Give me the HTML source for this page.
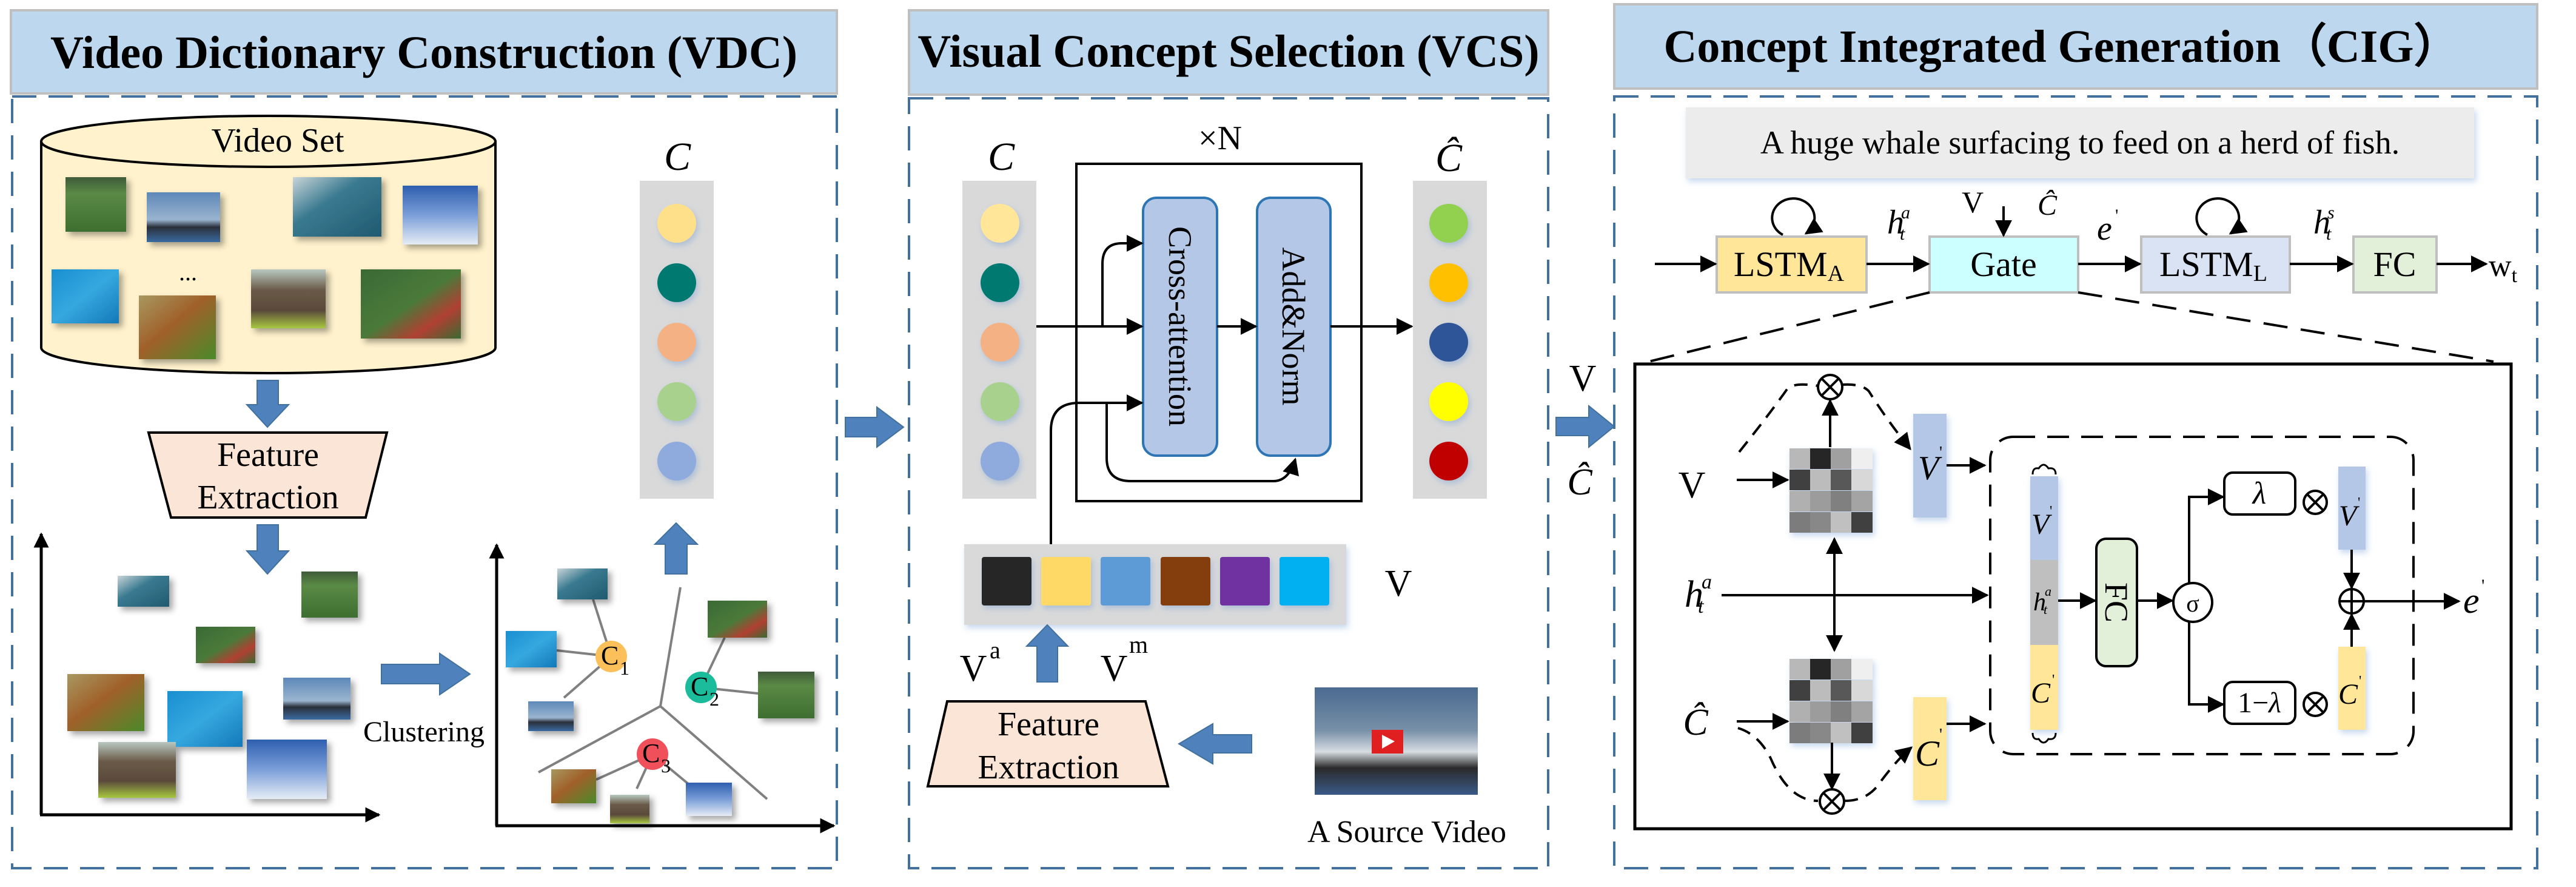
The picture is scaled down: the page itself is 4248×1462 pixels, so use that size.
<!DOCTYPE html>
<html><head><meta charset="utf-8"><style>
html,body{margin:0;padding:0;background:#fff;}
svg{display:block;font-family:"Liberation Serif","DejaVu Serif",serif;}
svg text{font-family:"Liberation Serif","DejaVu Serif",serif;fill:#000;}
.t{font-weight:bold;font-size:76px;}
.it{font-style:italic;}
</style></head><body>
<svg width="4248" height="1462" viewBox="0 0 4248 1462" xmlns="http://www.w3.org/2000/svg" font-family="Liberation Serif, DejaVu Serif, serif">
<defs>
<marker id="ah" viewBox="0 0 10 10" refX="9" refY="5" markerWidth="5" markerHeight="5" orient="auto-start-reverse" markerUnits="strokeWidth"><path d="M0,0 L10,5 L0,10 z" fill="#000"/></marker>
<marker id="ah2" viewBox="0 0 10 10" refX="9" refY="5" markerWidth="7" markerHeight="7" orient="auto-start-reverse" markerUnits="strokeWidth"><path d="M0,0 L10,5 L0,10 z" fill="#000"/></marker>
<filter id="sh" x="-20%" y="-20%" width="150%" height="150%"><feDropShadow dx="6" dy="6" stdDeviation="5" flood-color="#000" flood-opacity="0.35"/></filter>
<filter id="sh2" x="-20%" y="-20%" width="150%" height="150%"><feDropShadow dx="3" dy="5" stdDeviation="5" flood-color="#5b8fd0" flood-opacity="0.35"/></filter>
<linearGradient id="gf" x1="0" y1="0" x2="0" y2="1"><stop offset="0" stop-color="#3f5a3a"/><stop offset=".3" stop-color="#5a8a45"/><stop offset="1" stop-color="#3d6e30"/></linearGradient>
<linearGradient id="gw" x1="0" y1="0" x2="0" y2="1"><stop offset="0" stop-color="#5d88b8"/><stop offset=".55" stop-color="#9ab5d0"/><stop offset=".7" stop-color="#2a2f3a"/><stop offset="1" stop-color="#3a6aa0"/></linearGradient>
<linearGradient id="gp" x1="0" y1="0" x2="1" y2="1"><stop offset="0" stop-color="#c8d4d8"/><stop offset=".4" stop-color="#3a7a90"/><stop offset="1" stop-color="#1f5a70"/></linearGradient>
<linearGradient id="gq" x1="0" y1="0" x2="0" y2="1"><stop offset="0" stop-color="#2f5fb0"/><stop offset=".5" stop-color="#7a9ed8"/><stop offset="1" stop-color="#e6ecf5"/></linearGradient>
<linearGradient id="gb" x1="0" y1="0" x2="1" y2="1"><stop offset="0" stop-color="#1a8fd0"/><stop offset=".5" stop-color="#35a8e0"/><stop offset="1" stop-color="#1478b8"/></linearGradient>
<linearGradient id="gs" x1="0" y1="0" x2="1" y2="1"><stop offset="0" stop-color="#a89860"/><stop offset=".45" stop-color="#a0602a"/><stop offset="1" stop-color="#4a8a2a"/></linearGradient>
<linearGradient id="ge" x1="0" y1="0" x2="0" y2="1"><stop offset="0" stop-color="#b8c8c0"/><stop offset=".35" stop-color="#6a5a48"/><stop offset=".7" stop-color="#5a4a3a"/><stop offset="1" stop-color="#a8c840"/></linearGradient>
<linearGradient id="gc" x1="0" y1="0" x2="1" y2="1"><stop offset="0" stop-color="#3a6a35"/><stop offset=".5" stop-color="#4a7a3a"/><stop offset=".75" stop-color="#b04030"/><stop offset="1" stop-color="#3a6a30"/></linearGradient>
<linearGradient id="gv" x1="0" y1="0" x2="0" y2="1"><stop offset="0" stop-color="#4a6a90"/><stop offset=".4" stop-color="#7890a8"/><stop offset=".6" stop-color="#d8dde2"/><stop offset=".75" stop-color="#2a2a2a"/><stop offset="1" stop-color="#3a5a88"/></linearGradient>
</defs>

<rect x="18" y="17" width="1362" height="137" fill="#bdd7ee" stroke="#bfbfbf" stroke-width="4"/>
<text class="t" x="699" y="112" text-anchor="middle">Video Dictionary Construction (VDC)</text>
<rect x="20" y="159" width="1360" height="1272" fill="none" stroke="#41719c" stroke-width="4" stroke-dasharray="40,20"/>

<path d="M68,233 L68,573 A374.5,42 0 0 0 817,573 L817,233" fill="#fff2cc" stroke="#000" stroke-width="4"/>
<ellipse cx="442.5" cy="233" rx="374.5" ry="42" fill="#fff2cc" stroke="#000" stroke-width="4"/>
<text x="458" y="250" font-size="56" text-anchor="middle">Video Set</text>
<g filter="url(#sh)">
<rect x="108" y="292" width="100" height="90" fill="url(#gf)"/>
<rect x="242" y="317" width="121" height="82" fill="url(#gw)"/>
<rect x="483" y="292" width="146" height="98" fill="url(#gp)"/>
<rect x="664" y="306" width="124" height="97" fill="url(#gq)"/>
<rect x="85" y="444" width="111" height="89" fill="url(#gb)"/>
<rect x="229" y="487" width="127" height="105" fill="url(#gs)"/>
<rect x="414" y="444" width="123" height="97" fill="url(#ge)"/>
<rect x="595" y="444" width="165" height="114" fill="url(#gc)"/>
</g>
<text x="310" y="462" font-size="40" text-anchor="middle">...</text>

<g fill="#4f81bd" stroke="#41719c" stroke-width="2">
<path d="M424,627 L459,627 L459,667 L476,667 L441,704 L407,667 L424,667 Z"/>
<path d="M424,865 L459,865 L459,908 L476,908 L441,946 L407,908 L424,908 Z"/>
<path d="M629,1095 L725,1095 L725,1077 L775,1111 L725,1145 L725,1127 L629,1127 Z"/>
<path d="M1097,946 L1133,946 L1133,897 L1150,897 L1115,862 L1080,897 L1097,897 Z"/>
<path d="M1394,688 L1446,688 L1446,671 L1490,704 L1446,737 L1446,720 L1394,720 Z"/>
</g>
<path d="M245,713 L638,713 L603,853 L282,853 Z" fill="#fbe5d6" stroke="#000" stroke-width="4"/>
<text x="442" y="768" font-size="56" text-anchor="middle">Feature</text>
<text x="442" y="838" font-size="56" text-anchor="middle">Extraction</text>

<line x1="68" y1="1343" x2="68" y2="880" stroke="#000" stroke-width="5" marker-end="url(#ah)"/>
<line x1="66" y1="1343" x2="625" y2="1343" stroke="#000" stroke-width="5" marker-end="url(#ah)"/>
<g filter="url(#sh)">
<rect x="194" y="949" width="85" height="51" fill="url(#gp)"/>
<rect x="497" y="942" width="93" height="76" fill="url(#gf)"/>
<rect x="323" y="1033" width="98" height="60" fill="url(#gc)"/>
<rect x="111" y="1111" width="127" height="94" fill="url(#gs)"/>
<rect x="276" y="1139" width="124" height="92" fill="url(#gb)"/>
<rect x="467" y="1117" width="111" height="69" fill="url(#gw)"/>
<rect x="162" y="1223" width="128" height="92" fill="url(#ge)"/>
<rect x="407" y="1219" width="132" height="98" fill="url(#gq)"/>
</g>
<text x="699" y="1222" font-size="48" text-anchor="middle">Clustering</text>

<line x1="819" y1="1361" x2="819" y2="898" stroke="#000" stroke-width="5" marker-end="url(#ah)"/>
<line x1="817" y1="1361" x2="1375" y2="1361" stroke="#000" stroke-width="5" marker-end="url(#ah)"/>
<g stroke="#808080" stroke-width="4" fill="none">
<line x1="1089" y1="1164" x2="1122" y2="968"/>
<line x1="1089" y1="1164" x2="888" y2="1273"/>
<line x1="1089" y1="1164" x2="1265" y2="1317"/>
<line x1="1008" y1="1082" x2="978" y2="988"/>
<line x1="1008" y1="1082" x2="918" y2="1072"/>
<line x1="1008" y1="1082" x2="930" y2="1150"/>
<line x1="1156" y1="1133" x2="1195" y2="1051"/>
<line x1="1156" y1="1133" x2="1250" y2="1143"/>
<line x1="1076" y1="1243" x2="983" y2="1285"/>
<line x1="1076" y1="1243" x2="1050" y2="1300"/>
<line x1="1076" y1="1243" x2="1135" y2="1292"/>
</g>
<g filter="url(#sh)">
<rect x="919" y="937" width="83" height="51" fill="url(#gp)"/>
<rect x="834" y="1040" width="84" height="60" fill="url(#gb)"/>
<rect x="871" y="1156" width="75" height="49" fill="url(#gw)"/>
<rect x="1167" y="990" width="98" height="61" fill="url(#gc)"/>
<rect x="1250" y="1107" width="93" height="77" fill="url(#gf)"/>
<rect x="909" y="1268" width="74" height="56" fill="url(#gs)"/>
<rect x="1006" y="1310" width="65" height="47" fill="url(#ge)"/>
<rect x="1131" y="1290" width="76" height="55" fill="url(#gq)"/>
</g>
<circle cx="1008" cy="1082" r="26" fill="#fcc05a"/>
<text x="991" y="1095" font-size="44">C</text><text x="1022" y="1112" font-size="32">1</text>
<circle cx="1156" cy="1133" r="26" fill="#1abc9c"/>
<text x="1139" y="1146" font-size="44">C</text><text x="1170" y="1163" font-size="32">2</text>
<circle cx="1076" cy="1243" r="26" fill="#f0505a"/>
<text x="1059" y="1256" font-size="44">C</text><text x="1090" y="1273" font-size="32">3</text>

<text class="it" x="1117" y="280" font-size="66" text-anchor="middle">C</text>
<rect x="1055" y="298" width="122" height="524" fill="#d9d9d9"/>
<g filter="url(#sh2)">
<circle cx="1116" cy="368" r="32" fill="#ffe08a"/>
<circle cx="1116" cy="466" r="32" fill="#007a70"/>
<circle cx="1116" cy="564" r="32" fill="#f4b183"/>
<circle cx="1116" cy="662" r="32" fill="#a9d18e"/>
<circle cx="1116" cy="760" r="32" fill="#8faadc"/>
</g>

<rect x="1499" y="17" width="1054" height="139" fill="#bdd7ee" stroke="#bfbfbf" stroke-width="4"/>
<text class="t" x="2026" y="110" text-anchor="middle">Visual Concept Selection (VCS)</text>
<rect x="1499" y="162" width="1054" height="1269" fill="none" stroke="#41719c" stroke-width="4" stroke-dasharray="40,20"/>

<text x="2012" y="246" font-size="56" text-anchor="middle">×N</text>
<rect x="1775" y="270" width="470" height="556" fill="none" stroke="#000" stroke-width="4"/>
<text class="it" x="1651" y="280" font-size="66" text-anchor="middle">C</text>
<rect x="1587" y="298" width="122" height="524" fill="#d9d9d9"/>
<g filter="url(#sh2)">
<circle cx="1649" cy="368" r="32" fill="#ffe699"/>
<circle cx="1649" cy="466" r="32" fill="#007a70"/>
<circle cx="1649" cy="564" r="32" fill="#f4b183"/>
<circle cx="1649" cy="662" r="32" fill="#a9d18e"/>
<circle cx="1649" cy="760" r="32" fill="#8faadc"/>
</g>
<rect x="1885" y="326" width="122" height="425" rx="22" fill="#b4c7e7" stroke="#2e75b6" stroke-width="4"/>
<rect x="2073" y="326" width="121" height="425" rx="22" fill="#b4c7e7" stroke="#2e75b6" stroke-width="4"/>
<text x="1946" y="538" font-size="54" text-anchor="middle" dominant-baseline="central" transform="rotate(90 1946 538)">Cross-attention</text>
<text x="2133" y="538" font-size="54" text-anchor="middle" dominant-baseline="central" transform="rotate(90 2133 538)">Add&amp;Norm</text>
<g stroke="#000" stroke-width="4" fill="none">
<line x1="1709" y1="538" x2="1883" y2="538" marker-end="url(#ah2)"/>
<path d="M1818,538 L1818,435 Q1818,401 1850,401 L1883,401" marker-end="url(#ah2)"/>
<line x1="2007" y1="538" x2="2071" y2="538" marker-end="url(#ah2)"/>
<line x1="2194" y1="538" x2="2328" y2="538" marker-end="url(#ah2)"/>
<path d="M1733,897 L1733,710 Q1733,664 1780,664 L1883,664" marker-end="url(#ah2)"/>
<path d="M1825,664 L1825,755 Q1825,793 1865,793 L2100,793 Q2125,793 2136,757" marker-end="url(#ah2)"/>
</g>
<text class="it" x="2389" y="282" font-size="66" text-anchor="middle">Ĉ</text>
<rect x="2330" y="298" width="122" height="524" fill="#d9d9d9"/>
<g filter="url(#sh2)">
<circle cx="2389" cy="368" r="32" fill="#92d050"/>
<circle cx="2389" cy="466" r="32" fill="#ffc000"/>
<circle cx="2389" cy="564" r="32" fill="#2f5597"/>
<circle cx="2389" cy="662" r="32" fill="#ffff00"/>
<circle cx="2389" cy="760" r="32" fill="#c00000"/>
</g>
<rect x="1590" y="897" width="630" height="133" fill="#d9d9d9" filter="url(#sh2)"/>
<g filter="url(#sh2)">
<rect x="1619" y="918" width="82" height="80" rx="4" fill="#262626"/>
<rect x="1717" y="918" width="82" height="80" rx="4" fill="#ffd966"/>
<rect x="1815" y="918" width="82" height="80" rx="4" fill="#5b9bd5"/>
<rect x="1914" y="918" width="82" height="80" rx="4" fill="#843c0c"/>
<rect x="2012" y="918" width="82" height="80" rx="4" fill="#7030a0"/>
<rect x="2110" y="918" width="82" height="80" rx="4" fill="#00b0f0"/>
</g>
<text x="2306" y="982" font-size="62" text-anchor="middle">V</text>
<g fill="#4f81bd" stroke="#41719c" stroke-width="2">
<path d="M1710,1124 L1744,1124 L1744,1065 L1761,1065 L1727,1030 L1693,1065 L1710,1065 Z"/>
<path d="M2064,1211 L2000,1211 L2000,1193 L1944,1226 L2000,1259 L2000,1241 L2064,1241 Z"/>
<path d="M2566,688 L2620,688 L2620,669 L2662,703 L2620,737 L2620,718 L2566,718 Z"/>
</g>
<text x="1605" y="1122" font-size="62" text-anchor="middle">V</text><text x="1632" y="1085" font-size="40">a</text>
<text x="1837" y="1122" font-size="62" text-anchor="middle">V</text><text x="1862" y="1076" font-size="40">m</text>
<path d="M1562,1156 L1889,1156 L1926,1296 L1530,1296 Z" fill="#fbe5d6" stroke="#000" stroke-width="4"/>
<text x="1729" y="1212" font-size="56" text-anchor="middle">Feature</text>
<text x="1729" y="1283" font-size="56" text-anchor="middle">Extraction</text>
<rect x="2168" y="1133" width="269" height="177" fill="url(#gv)"/>
<rect x="2262" y="1203" width="52" height="39" fill="#e02020"/>
<path d="M2279,1211 L2300,1222 L2279,1234 Z" fill="#fff"/>
<text x="2320" y="1388" font-size="52" text-anchor="middle">A Source Video</text>
<text x="2610" y="644" font-size="62" text-anchor="middle">V</text>
<text class="it" x="2605" y="815" font-size="62" text-anchor="middle">Ĉ</text>

<rect x="2662" y="7" width="1522" height="139" fill="#bdd7ee" stroke="#bfbfbf" stroke-width="4"/>
<text class="t" x="3400" y="102" text-anchor="middle">Concept Integrated Generation（CIG）</text>
<rect x="2662" y="159" width="1522" height="1272" fill="none" stroke="#41719c" stroke-width="4" stroke-dasharray="40,20"/>
<rect x="2780" y="177" width="1300" height="117" fill="#ececec" filter="url(#sh2)"/>
<text x="3430" y="253" font-size="54" text-anchor="middle">A huge whale surfacing to feed on a herd of fish.</text>

<rect x="2831" y="390" width="247" height="92" fill="#ffe699" stroke="#bfbfbf" stroke-width="4"/>
<rect x="3182" y="390" width="245" height="92" fill="#ccffff" stroke="#bfbfbf" stroke-width="4"/>
<rect x="3531" y="390" width="245" height="92" fill="#dae3f3" stroke="#bfbfbf" stroke-width="4"/>
<rect x="3881" y="390" width="137" height="92" fill="#e2f0d9" stroke="#bfbfbf" stroke-width="4"/>
<text x="2950" y="455" font-size="58" text-anchor="middle">LSTM<tspan font-size="38" dy="8">A</tspan></text>
<text x="3304" y="455" font-size="58" text-anchor="middle">Gate</text>
<text x="3650" y="455" font-size="58" text-anchor="middle">LSTM<tspan font-size="38" dy="8">L</tspan></text>
<text x="3949" y="455" font-size="58" text-anchor="middle">FC</text>
<g stroke="#000" stroke-width="4" fill="none">
<line x1="2729" y1="435" x2="2829" y2="435" marker-end="url(#ah2)"/>
<line x1="3078" y1="435" x2="3180" y2="435" marker-end="url(#ah2)"/>
<line x1="3427" y1="435" x2="3529" y2="435" marker-end="url(#ah2)"/>
<line x1="3776" y1="435" x2="3879" y2="435" marker-end="url(#ah2)"/>
<line x1="4018" y1="435" x2="4100" y2="435" marker-end="url(#ah2)"/>
<line x1="3304" y1="340" x2="3304" y2="388" marker-end="url(#ah2)"/>
<path d="M2940,387 A35,32 0 1 1 2978,385" marker-end="url(#ah2)"/>
<path d="M3640,387 A35,32 0 1 1 3678,385" marker-end="url(#ah2)"/>
<line x1="3182" y1="482" x2="2719" y2="596" stroke-dasharray="40,22"/>
<line x1="3427" y1="482" x2="4112" y2="596" stroke-dasharray="40,22"/>
</g>
<text x="4104" y="455" font-size="52">w<tspan font-size="34" dy="10">t</tspan></text>
<text class="it" x="3112" y="385" font-size="56">h</text><text class="it" x="3135" y="360" font-size="30">a</text><text class="it" x="3133" y="395" font-size="30">t</text>
<text x="3253" y="350" font-size="50" text-anchor="middle">V</text>
<text class="it" x="3376" y="354" font-size="48" text-anchor="middle">Ĉ</text>
<text class="it" x="3458" y="395" font-size="56">e</text><text x="3488" y="365" font-size="30">'</text>
<text class="it" x="3815" y="385" font-size="56">h</text><text class="it" x="3838" y="360" font-size="30">s</text><text class="it" x="3836" y="395" font-size="30">t</text>

<rect x="2696" y="600" width="1445" height="766" fill="none" stroke="#000" stroke-width="5"/>
<text x="2790" y="820" font-size="62" text-anchor="middle">V</text>
<text class="it" x="2778" y="1000" font-size="62">h</text><text class="it" x="2806" y="970" font-size="34">a</text><text class="it" x="2800" y="1010" font-size="34">t</text>
<text class="it" x="2796" y="1211" font-size="62" text-anchor="middle">Ĉ</text>

<g filter="url(#sh2)">
<g transform="translate(2951,739)">
<rect x="0" y="0" width="34" height="34" fill="#b8b8b8"/><rect x="34" y="0" width="34" height="34" fill="#262626"/><rect x="68" y="0" width="34" height="34" fill="#a0a0a0"/><rect x="102" y="0" width="35" height="34" fill="#efefef"/>
<rect x="0" y="35" width="34" height="34" fill="#404040"/><rect x="34" y="35" width="34" height="34" fill="#bcbcbc"/><rect x="68" y="35" width="34" height="34" fill="#585858"/><rect x="102" y="35" width="35" height="34" fill="#d8d8d8"/>
<rect x="0" y="70" width="34" height="34" fill="#b0b0b0"/><rect x="34" y="70" width="34" height="34" fill="#9c9c9c"/><rect x="68" y="70" width="34" height="34" fill="#808080"/><rect x="102" y="70" width="35" height="34" fill="#a4a4a4"/>
<rect x="0" y="105" width="34" height="34" fill="#7c7c7c"/><rect x="34" y="105" width="34" height="34" fill="#888"/><rect x="68" y="105" width="34" height="34" fill="#c0c0c0"/><rect x="102" y="105" width="35" height="34" fill="#404040"/>
</g>
<g transform="translate(2951,1086)">
<rect x="0" y="0" width="34" height="34" fill="#b8b8b8"/><rect x="34" y="0" width="34" height="34" fill="#262626"/><rect x="68" y="0" width="34" height="34" fill="#a0a0a0"/><rect x="102" y="0" width="35" height="34" fill="#efefef"/>
<rect x="0" y="35" width="34" height="34" fill="#404040"/><rect x="34" y="35" width="34" height="34" fill="#bcbcbc"/><rect x="68" y="35" width="34" height="34" fill="#585858"/><rect x="102" y="35" width="35" height="34" fill="#d8d8d8"/>
<rect x="0" y="70" width="34" height="34" fill="#b0b0b0"/><rect x="34" y="70" width="34" height="34" fill="#9c9c9c"/><rect x="68" y="70" width="34" height="34" fill="#808080"/><rect x="102" y="70" width="35" height="34" fill="#a4a4a4"/>
<rect x="0" y="105" width="34" height="34" fill="#7c7c7c"/><rect x="34" y="105" width="34" height="34" fill="#888"/><rect x="68" y="105" width="34" height="34" fill="#c0c0c0"/><rect x="102" y="105" width="35" height="34" fill="#404040"/>
</g>
<rect x="3155" y="682" width="55" height="171" fill="#b4c7e7"/>
<rect x="3155" y="1149" width="55" height="170" fill="#ffe699"/>
<rect x="3348" y="785" width="46" height="138" fill="#b4c7e7"/>
<rect x="3348" y="923" width="46" height="140" fill="#bfbfbf"/>
<rect x="3348" y="1063" width="46" height="140" fill="#ffe699"/>
<rect x="3856" y="769" width="45" height="137" fill="#b4c7e7"/>
<rect x="3856" y="1066" width="45" height="137" fill="#ffe699"/>
</g>
<g stroke="#000" stroke-width="4" fill="none">
<line x1="2864" y1="791" x2="2948" y2="791" marker-end="url(#ah2)"/>
<line x1="2864" y1="1189" x2="2948" y2="1189" marker-end="url(#ah2)"/>
<line x1="2839" y1="981" x2="3277" y2="981" marker-end="url(#ah2)"/>
<line x1="3025" y1="930" x2="3025" y2="888" marker-end="url(#ah2)"/>
<line x1="3025" y1="1030" x2="3025" y2="1072" marker-end="url(#ah2)"/>
<line x1="3025" y1="930" x2="3025" y2="1030"/>
<line x1="3018" y1="737" x2="3018" y2="660" marker-end="url(#ah2)"/>
<line x1="3021" y1="1224" x2="3021" y2="1300" marker-end="url(#ah2)"/>
<path d="M2868,745 Q2920,680 2948,640 Q2960,630 2998,636" stroke-dasharray="22,14"/>
<path d="M3038,634 Q3070,632 3082,645 Q3110,690 3150,740" stroke-dasharray="22,14" marker-end="url(#ah2)"/>
<path d="M2866,1200 Q2900,1210 2920,1250 Q2950,1320 2998,1320" stroke-dasharray="22,14"/>
<path d="M3042,1320 Q3080,1320 3100,1290 Q3130,1250 3152,1232" stroke-dasharray="22,14" marker-end="url(#ah2)"/>
<line x1="3210" y1="767" x2="3273" y2="767" marker-end="url(#ah2)"/>
<line x1="3210" y1="1193" x2="3273" y2="1193" marker-end="url(#ah2)"/>
<rect x="3282" y="720" width="698" height="523" rx="38" stroke-dasharray="36,20"/>
<line x1="3394" y1="990" x2="3455" y2="990" marker-end="url(#ah2)"/>
<line x1="3524" y1="990" x2="3582" y2="990" marker-end="url(#ah2)"/>
<path d="M3610,961 L3610,819 L3666,819" marker-end="url(#ah2)"/>
<path d="M3610,1025 L3610,1161 L3666,1161" marker-end="url(#ah2)"/>
<line x1="3878" y1="906" x2="3878" y2="969" marker-end="url(#ah2)"/>
<line x1="3878" y1="1066" x2="3878" y2="1013" marker-end="url(#ah2)"/>
<line x1="3898" y1="991" x2="4055" y2="991" marker-end="url(#ah2)"/>
<path d="M3352,782 Q3352,770 3362,772 Q3370,760 3378,772 Q3390,770 3390,782" stroke-width="3"/>
<path d="M3352,1208 Q3352,1220 3362,1218 Q3370,1230 3378,1218 Q3390,1220 3390,1208" stroke-width="3"/>
</g>
<text class="it" x="3163" y="790" font-size="56">V</text><text x="3198" y="755" font-size="28">'</text>
<text class="it" x="3158" y="1262" font-size="60">C</text><text x="3198" y="1220" font-size="28">'</text>
<text class="it" x="3350" y="880" font-size="48">V</text><text x="3380" y="850" font-size="24">'</text>
<text class="it" x="3353" y="1006" font-size="42">h</text><text class="it" x="3372" y="982" font-size="22">a</text><text class="it" x="3370" y="1012" font-size="22">t</text>
<text class="it" x="3349" y="1158" font-size="48">C</text><text x="3384" y="1128" font-size="24">'</text>
<text class="it" x="3857" y="866" font-size="48">V</text><text x="3888" y="836" font-size="24">'</text>
<text class="it" x="3856" y="1160" font-size="48">C</text><text x="3890" y="1130" font-size="24">'</text>
<rect x="3457" y="888" width="67" height="210" rx="16" fill="#e2f0d9" stroke="#000" stroke-width="4"/>
<text x="3490" y="993" font-size="54" text-anchor="middle" dominant-baseline="central" transform="rotate(90 3490 993)">FC</text>
<circle cx="3616" cy="993" r="32" fill="#fff" stroke="#000" stroke-width="4"/>
<text x="3616" y="1008" font-size="40" text-anchor="middle">σ</text>
<rect x="3668" y="779" width="117" height="69" rx="14" fill="#fff" stroke="#000" stroke-width="4"/>
<text class="it" x="3726" y="830" font-size="52" text-anchor="middle">λ</text>
<rect x="3668" y="1124" width="117" height="69" rx="14" fill="#fff" stroke="#000" stroke-width="4"/>
<text x="3726" y="1174" font-size="48" text-anchor="middle">1−<tspan font-style="italic">λ</tspan></text>
<g stroke="#000" stroke-width="4" fill="#fff">
<circle cx="3018" cy="638" r="20"/><path d="M3004,624 L3032,652 M3032,624 L3004,652"/>
<circle cx="3021" cy="1321" r="20"/><path d="M3007,1307 L3035,1335 M3035,1307 L3007,1335"/>
<circle cx="3818" cy="828" r="19"/><path d="M3805,815 L3831,841 M3831,815 L3805,841"/>
<circle cx="3818" cy="1161" r="19"/><path d="M3805,1148 L3831,1174 M3831,1148 L3805,1174"/>
<circle cx="3878" cy="991" r="20"/><path d="M3858,991 L3898,991 M3878,971 L3878,1011"/>
</g>
<text class="it" x="4062" y="1010" font-size="60">e</text><text x="4092" y="975" font-size="30">'</text>
</svg>
</body></html>
